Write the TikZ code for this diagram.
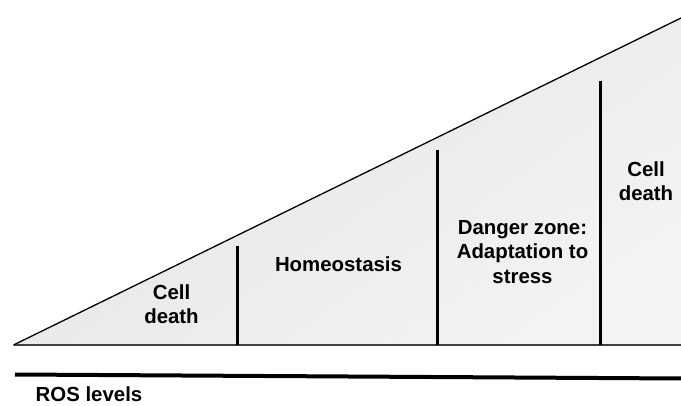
\documentclass[tikz,border=0pt]{standalone}
\usepackage{fontspec}
\setmainfont{Liberation Sans}
\usetikzlibrary{math}
\definecolor{zonedark}{RGB}{228,228,228}
\definecolor{zonelight}{RGB}{243,243,243}

\begin{document}
\begin{tikzpicture}[x=1pt,y=-1pt,font=\bfseries\fontsize{20.4}{24.5}\selectfont]
\tikzmath{
\W=681;
\H=406;
\xa=13.5;%left corner
\yb=345;%base of the wedge
\yt=18;%slope at right edge
}
\useasboundingbox (0,0) rectangle (\W,\H);
\clip (0,0) rectangle (\W,\H);

\shade[top color=zonedark, bottom color=zonelight, shading angle=35] (\xa,\yb) -- (\W,\yt) -- (\W,\yb) -- cycle;
\draw[line width=1.3,color=black!75] (\xa,\yb) -- (\W,\yb);
\draw[line width=1.3] (\xa,\yb) -- (\W,\yt);

%zone borders
\foreach \x/\ytop in {237/246,437/150,600/81}
  \draw[line width=3] (\x,\ytop) -- (\x,\yb);

\node[align=center,inner sep=0] (death low) at (171.5,304) {Cell\\death};
\node[inner sep=0] (homeo) at (338.5,264.5) {Homeostasis};
\node[align=center,inner sep=0] (danger) at (522.5,252) {Danger zone:\\Adaptation to\\stress};
\node[align=center,inner sep=0] (death high) at (646,181) {Cell\\death};

\coordinate (ros start) at (15,374.5);
\coordinate (ros end) at (\W,378.5);
\draw[line width=4] (ros start) -- (ros end);
\node[anchor=base west,inner sep=0] (ros) at (35.5,402) {ROS levels};
\end{tikzpicture}
\end{document}
